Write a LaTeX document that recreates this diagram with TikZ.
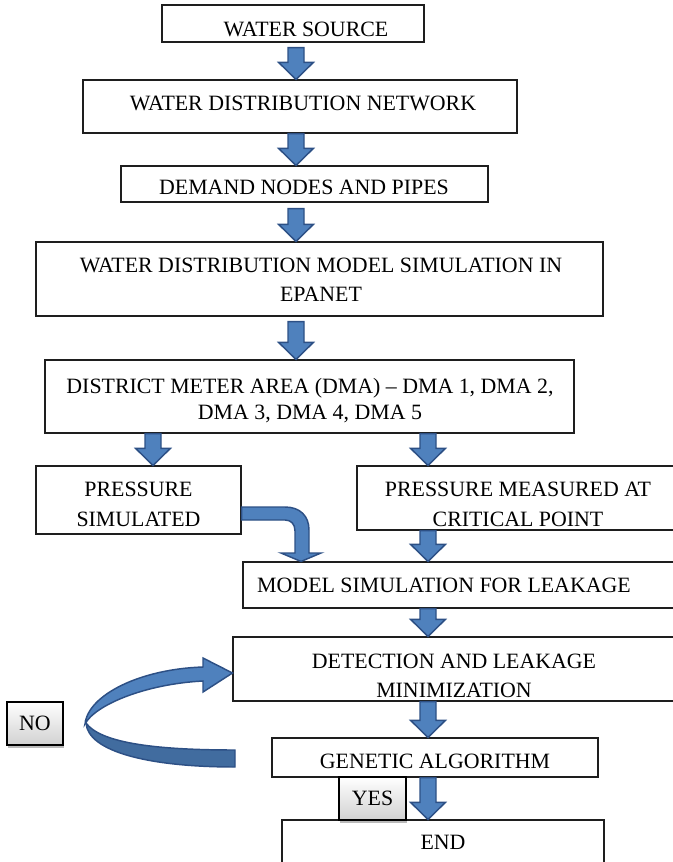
\documentclass[tikz,border=0pt]{standalone}
\usepackage{fontspec}
\setmainfont{Liberation Serif}
\usetikzlibrary{calc,shadows}

\definecolor{arrowfill}{HTML}{4F81BD}
\definecolor{arrowedge}{HTML}{2D5085}
\definecolor{arrowdark}{HTML}{416C9F}
\definecolor{boxedge}{HTML}{1E1E1E}

\newcommand\flowfont{\fontsize{16.4pt}{21.75pt}\selectfont}

\tikzset{
  sz/.style 2 args={minimum width=#1*0.75pt, minimum height=#2*0.75pt},
  box/.style={draw=boxedge, line width=0.8pt, fill=white, rectangle, inner sep=0pt},
  txt/.style={inner sep=0pt, align=center, font=\flowfont},
  tag/.style={draw=black, line width=0.8pt, rectangle, inner sep=0pt,
    top color=white, bottom color=black!18, font=\flowfont,
    drop shadow={shadow xshift=1pt, shadow yshift=-2pt, opacity=0.45, fill=black!60}},
  arrowbody/.style={fill=arrowfill, draw=arrowedge, line width=1.1pt, line join=miter},
}

% straight block arrow pointing down, from a tail point to a tip point
\newcommand\blockdown[2]{%
  \path[arrowbody] let \p1=#1, \p2=#2 in
    (\x1-6pt,\y1) -- (\x1-6pt,\y2+12.75pt) -- (\x1-13pt,\y2+12.75pt) -- (\x1,\y2)
    -- (\x1+13pt,\y2+12.75pt) -- (\x1+6pt,\y2+12.75pt) -- (\x1+6pt,\y1) -- cycle;}

\begin{document}
\begin{tikzpicture}[x=0.75pt, y=-0.75pt]
\path[use as bounding box] (0,0) rectangle (673,862);
\clip (0,0) rectangle (673,862);

% process boxes
\node[box, sz={262}{37}] (ws)   at (293,23.5)  {};
\node[box, sz={434}{53}] (wdn)  at (300,106.5) {};
\node[box, sz={367}{36}] (dem)  at (304.5,184) {};
\node[box, sz={567}{74}] (epa)  at (319.5,279) {};
\node[box, sz={529}{73}] (dma)  at (309.5,396.5) {};
\node[box, sz={205}{68}] (psim) at (138.5,500) {};
\node[box, sz={330}{64}] (pmea) at (522,498) {};
\node[box, sz={450}{46}] (msim) at (468,585) {};
\node[box, sz={450}{64}] (det)  at (458,669) {};
\node[box, sz={326}{39}] (gen)  at (435,757.5) {};
\node[box, sz={322}{48}] (fin)  at (443,844) {};

% box texts
\node[txt] (ws-t)   at (306,29)    {WATER SOURCE};
\node[txt] (wdn-t)  at (303,103)   {WATER DISTRIBUTION NETWORK};
\node[txt] (dem-t)  at (304,187)   {DEMAND NODES AND PIPES};
\node[txt] (epa-t)  at (321,279.5) {WATER DISTRIBUTION MODEL SIMULATION IN\\EPANET};
\node[txt, font={\fontsize{16.4pt}{19.5pt}\selectfont}] (dma-t) at (310,400.5)
  {DISTRICT METER AREA (DMA) -- DMA 1, DMA 2,\\DMA 3, DMA 4, DMA 5};
\node[txt, font={\fontsize{16.4pt}{22.5pt}\selectfont}] (psim-t) at (138.5,504.5) {PRESSURE\\SIMULATED};
\node[txt, font={\fontsize{16.4pt}{22.5pt}\selectfont}] (pmea-t) at (518,504.5) {PRESSURE MEASURED AT\\CRITICAL POINT};
\node[txt] (msim-t) at (444,585)   {MODEL SIMULATION FOR LEAKAGE};
\node[txt] (det-t)  at (454,676)   {DETECTION AND LEAKAGE\\MINIMIZATION};
\node[txt] (gen-t)  at (435,761)   {GENETIC ALGORITHM};
\node[txt] (fin-t)  at (443,842)   {END};

% arrow columns
\coordinate (c1) at (296,0);
\coordinate (c2) at (153,0);
\coordinate (c3) at (428,0);

% straight block arrows
\blockdown{($(ws.south-|c1)+(0,5)$)}{(wdn.north-|c1)}
\blockdown{(wdn.south-|c1)}{(dem.north-|c1)}
\blockdown{($(dem.south-|c1)+(0,6)$)}{(epa.north-|c1)}
\blockdown{($(epa.south-|c1)+(0,5)$)}{(dma.north-|c1)}
\blockdown{(dma.south-|c2)}{(psim.north-|c2)}
\blockdown{(dma.south-|c3)}{(pmea.north-|c3)}
\blockdown{(pmea.south-|c3)}{(msim.north-|c3)}
\blockdown{(msim.south-|c3)}{(det.north-|c3)}
\blockdown{(det.south-|c3)}{(gen.north-|c3)}
\blockdown{(gen.south-|c3)}{(fin.north-|c3)}

% bent arrow: simulated pressure into the leakage model
\path[arrowbody] (psim.east |- 0,507) -- (285,507)
  .. controls (300,507) and (309,516) .. (309,530) -- (309,553) -- (321,553)
  -- (msim.north -| 301,0) -- (281,553) -- (295,553) -- (295,531)
  .. controls (295,524) and (291,520) .. (285,520) -- (psim.east |- 0,520) -- cycle;

% curved return arrow back to detection (lower, back face first)
\path[arrowbody, fill=arrowdark] (86,723)
  .. controls (88,752) and (150,767) .. (235,767) -- (235,750)
  .. controls (150,750) and (100,742) .. (86,723) -- cycle;
\path[arrowbody] (203,667)
  .. controls (140,669) and (88,695) .. (85,724)
  .. controls (95,705) and (145,684) .. (203,681)
  -- (203,692) -- (det.west |- 0,673) -- (203,658) -- cycle;

% decision tags
\node[tag, sz={56}{43}] (no)  at (35,723.5)   {NO};
\node[tag, sz={67}{43}] (yes) at (372.5,798.5) {YES};
\end{tikzpicture}
\end{document}
